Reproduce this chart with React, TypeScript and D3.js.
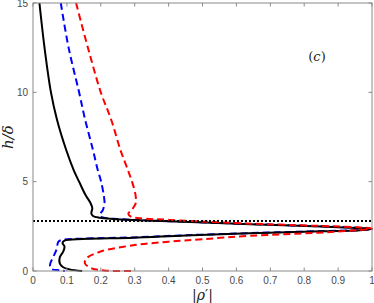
import React, { useEffect } from "react";
import * as d3 from "d3";

const xTicks = [0, 0.1, 0.2, 0.3, 0.4, 0.5, 0.6, 0.7, 0.8, 0.9, 1];
const xTickLabels = ["0", "0.1", "0.2", "0.3", "0.4", "0.5", "0.6", "0.7", "0.8", "0.9", "1"];
const yTicks = [0, 5, 10, 15];
const yTickLabels = ["0", "5", "10", "15"];
const refLineY = 2.8;

// solid black series: [|rho'|, h/delta]
const blackX = [0.019, 0.034, 0.053, 0.071, 0.098, 0.120, 0.136, 0.155, 0.170, 0.175, 0.172, 0.177, 0.197, 0.236, 0.295, 0.40, 0.64, 0.85, 0.965, 1.0, 0.965, 0.85, 0.64, 0.45, 0.295, 0.147, 0.093, 0.087, 0.093, 0.089, 0.079, 0.079, 0.089, 0.108, 0.145];
const blackY = [15, 12.5, 10, 8.45, 6.77, 5.65, 5.0, 4.25, 3.79, 3.51, 3.23, 3.08, 2.98, 2.91, 2.85, 2.78, 2.62, 2.49, 2.40, 2.35, 2.28, 2.22, 2.11, 1.99, 1.86, 1.79, 1.70, 1.58, 1.36, 1.08, 0.77, 0.43, 0.21, 0.09, 0];

const blueX = [0.082, 0.105, 0.136, 0.154, 0.177, 0.191, 0.201, 0.209, 0.211, 0.206, 0.197, 0.206, 0.24, 0.30, 0.40, 0.64, 0.85, 0.965, 1.0, 0.965, 0.85, 0.64, 0.45, 0.295, 0.15, 0.085, 0.075, 0.069, 0.060, 0.050, 0.054, 0.079, 0.094];
const blueY = [15, 12.5, 10, 8.45, 6.77, 5.65, 5.0, 4.2, 3.79, 3.41, 3.13, 3.0, 2.92, 2.86, 2.79, 2.63, 2.50, 2.41, 2.35, 2.29, 2.23, 2.12, 2.0, 1.88, 1.81, 1.74, 1.64, 1.18, 0.80, 0.34, 0.12, 0.04, 0];

const redX = [0.127, 0.162, 0.200, 0.231, 0.258, 0.280, 0.292, 0.302, 0.303, 0.291, 0.281, 0.29, 0.316, 0.404, 0.552, 0.75, 0.965, 1.0, 0.965, 0.837, 0.64, 0.50, 0.40, 0.30, 0.198, 0.158, 0.153, 0.173, 0.217, 0.30];
const redY = [15, 12.5, 10, 8.45, 6.77, 5.65, 5.0, 4.3, 3.79, 3.41, 3.2, 3.03, 2.95, 2.86, 2.72, 2.58, 2.44, 2.37, 2.30, 2.14, 1.97, 1.78, 1.64, 1.45, 1.08, 0.71, 0.43, 0.15, 0.02, 0];

const W = 374;
const H = 303;
const L = 33;
const R = 372;
const T = 3;
const B = 271;

export default function App() {
  useEffect(() => {
    document.body.style.margin = "0";
  }, []);

  const x = d3.scaleLinear().domain([0, 1]).range([L, R]);
  const y = d3.scaleLinear().domain([0, 15]).range([B, T]);
  const line = d3
    .line<[number, number]>()
    .x((d) => x(d[0]))
    .y((d) => y(d[1]))
    .curve(d3.curveCatmullRom.alpha(0.5));

  const pts = (xs: number[], ys: number[]) => xs.map((v, i) => [v, ys[i]] as [number, number]);

  const axisColor = "#8a8a8a";
  const textColor = "#4a4a4a";
  const font = "Liberation Sans, Arial, Helvetica, sans-serif";

  return (
    <svg width={W} height={H} style={{ display: "block" }}>
      <rect x={0} y={0} width={W} height={H} fill="#fff" />
      <path d={line(pts(blueX, blueY)) || ""} fill="none" stroke="#0000ff" strokeWidth={2} strokeDasharray="7,4" />
      <path d={line(pts(blackX, blackY)) || ""} fill="none" stroke="#000" strokeWidth={2} />
      <path d={line(pts(redX, redY)) || ""} fill="none" stroke="#ff0000" strokeWidth={2} strokeDasharray="7,4" />
      <line x1={x(0)} x2={x(1)} y1={y(refLineY)} y2={y(refLineY)} stroke="#000" strokeWidth={2} strokeDasharray="2,2" />
      <rect x={L} y={T} width={R - L} height={B - T} fill="none" stroke={axisColor} strokeWidth={1} />
      {xTicks.map((t, i) => (
        <g key={"xt" + i}>
          <line x1={x(t)} x2={x(t)} y1={B} y2={B - 3.5} stroke={axisColor} />
          <line x1={x(t)} x2={x(t)} y1={T} y2={T + 3.5} stroke={axisColor} />
          <text x={x(t)} y={284} textAnchor="middle" fontSize={10} fill={textColor} fontFamily={font}>
            {xTickLabels[i]}
          </text>
        </g>
      ))}
      {yTicks.map((t, i) => (
        <g key={"yt" + i}>
          <line x1={L} x2={L + 3.5} y1={y(t)} y2={y(t)} stroke={axisColor} />
          <line x1={R} x2={R - 3.5} y1={y(t)} y2={y(t)} stroke={axisColor} />
          <text x={28} y={y(t) + 3.5} textAnchor="end" fontSize={10} fill={textColor} fontFamily={font}>
            {yTickLabels[i]}
          </text>
        </g>
      ))}
      <text x={202.5} y={300} textAnchor="middle" fontSize={14} fontFamily="DejaVu Serif, serif" fill="#222">
        |<tspan fontStyle="italic">ρ</tspan>′|
      </text>
      <text
        transform={`translate(13,137) rotate(-90)`}
        textAnchor="middle"
        fontSize={15}
        fontFamily="DejaVu Serif, serif"
        fontStyle="italic"
        fill="#222"
      >
        h/δ
      </text>
      <text x={317} y={61} textAnchor="middle" fontSize={13} fontFamily="DejaVu Serif, serif" fill="#222">
        (<tspan fontStyle="italic">c</tspan>)
      </text>
    </svg>
  );
}
